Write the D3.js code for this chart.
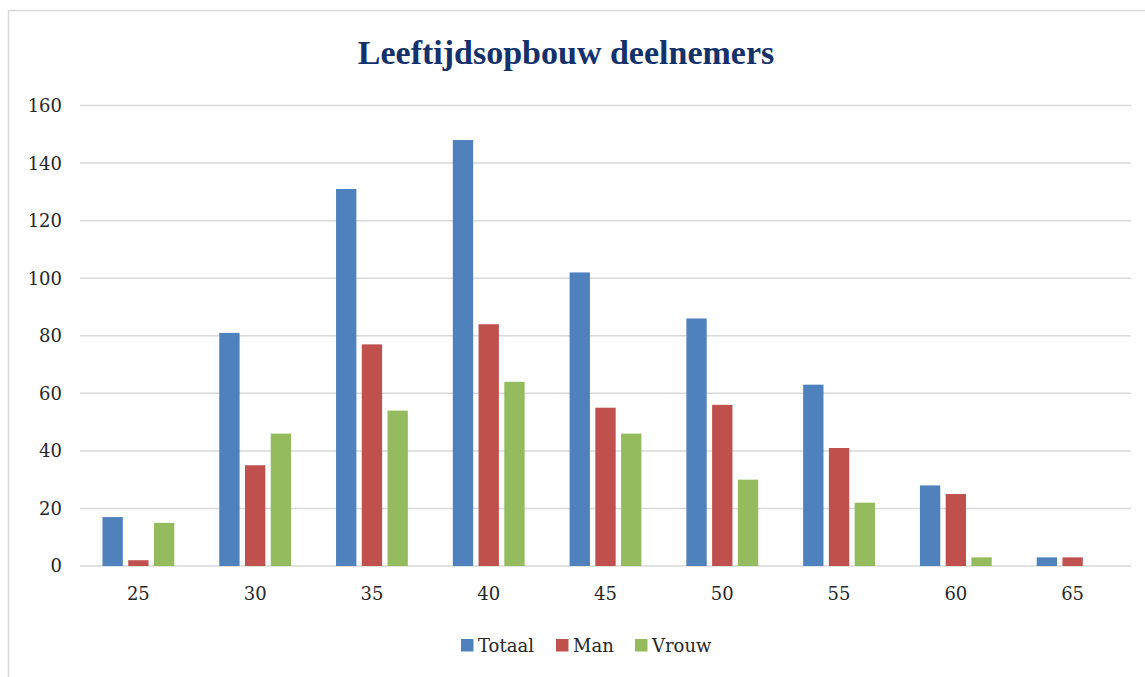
<!DOCTYPE html>
<html>
<head>
<meta charset="utf-8">
<script src="https://cdn.jsdelivr.net/npm/d3@7"></script>
<style>
  html, body { margin: 0; padding: 0; background: #fff; }
  svg { display: block; }
</style>
</head>
<body>
<svg id="chart" width="1145" height="677"></svg>
<script>
const categories = ["25", "30", "35", "40", "45", "50", "55", "60", "65"];
const seriesNames = ["Totaal", "Man", "Vrouw"];
const totaal = [17, 81, 131, 148, 102, 86, 63, 28, 3];
const man = [2, 35, 77, 84, 55, 56, 41, 25, 3];
const vrouw = [15, 46, 54, 64, 46, 30, 22, 3, 0];
const yTicks = [0, 20, 40, 60, 80, 100, 120, 140, 160];
const colors = ["#4F81BD", "#C0504D", "#94BC5E"];
const title = "Leeftijdsopbouw deelnemers";

const seriesValues = [totaal, man, vrouw];
const svg = d3.select("#chart");

// chart area border
svg.append("rect")
  .attr("x", 8.5).attr("y", 10.5)
  .attr("width", 1400).attr("height", 900)
  .attr("fill", "none").attr("stroke", "#d9d9d9").attr("stroke-width", 1.5);

const plotLeft = 80, plotRight = 1131, plotTop = 105.5, plotBottom = 566;

const y = d3.scaleLinear().domain([0, 160]).range([plotBottom, plotTop]);
const x0 = d3.scaleBand().domain(categories).range([plotLeft, plotRight]).padding(0);
const groupW = x0.bandwidth() * 0.615;
const x1 = d3.scaleBand().domain(seriesNames).range([-groupW / 2, groupW / 2]).paddingInner(0.21).paddingOuter(0);

// gridlines
svg.append("g").selectAll("line").data(yTicks).join("line")
  .attr("x1", plotLeft).attr("x2", plotRight)
  .attr("y1", d => y(d)).attr("y2", d => y(d))
  .attr("stroke", "#d9d9d9").attr("stroke-width", 1.5);

// y tick labels
svg.append("g").selectAll("text").data(yTicks).join("text")
  .attr("x", 62).attr("y", d => y(d))
  .attr("dy", "0.36em")
  .attr("text-anchor", "end")
  .attr("font-family", "'DejaVu Serif', serif")
  .attr("font-size", 18)
  .attr("fill", "#262626")
  .text(d => d);

// bars
const barData = [];
categories.forEach((c, i) => {
  seriesNames.forEach((s, j) => {
    barData.push({ cat: c, series: s, value: seriesValues[j][i], color: colors[j] });
  });
});
svg.append("g").selectAll("rect").data(barData.filter(d => d.value > 0)).join("rect")
  .attr("x", d => x0(d.cat) + x0.bandwidth() / 2 + x1(d.series))
  .attr("width", x1.bandwidth())
  .attr("y", d => y(d.value))
  .attr("height", d => y(0) - y(d.value))
  .attr("fill", d => d.color);

// x labels
svg.append("g").selectAll("text").data(categories).join("text")
  .attr("x", d => x0(d) + x0.bandwidth() / 2)
  .attr("y", 600)
  .attr("text-anchor", "middle")
  .attr("font-family", "'DejaVu Serif', serif")
  .attr("font-size", 18)
  .attr("fill", "#262626")
  .text(d => d);

// title
svg.append("text")
  .attr("x", 566).attr("y", 64)
  .attr("text-anchor", "middle")
  .attr("font-family", "'Liberation Serif', serif")
  .attr("font-weight", "bold")
  .attr("font-size", 34)
  .attr("fill", "#13316B")
  .text(title);

// legend
const legendX = [461, 556, 635];
const lg = svg.append("g").selectAll("g").data(seriesNames).join("g")
  .attr("transform", (d, i) => `translate(${legendX[i]},639)`);
lg.append("rect").attr("width", 12.5).attr("height", 12.5).attr("fill", (d, i) => colors[i]);
lg.append("text")
  .attr("x", 17).attr("y", 13)
  .attr("font-family", "'DejaVu Serif', serif")
  .attr("font-size", 18)
  .attr("fill", "#262626")
  .text(d => d);
</script>
</body>
</html>
